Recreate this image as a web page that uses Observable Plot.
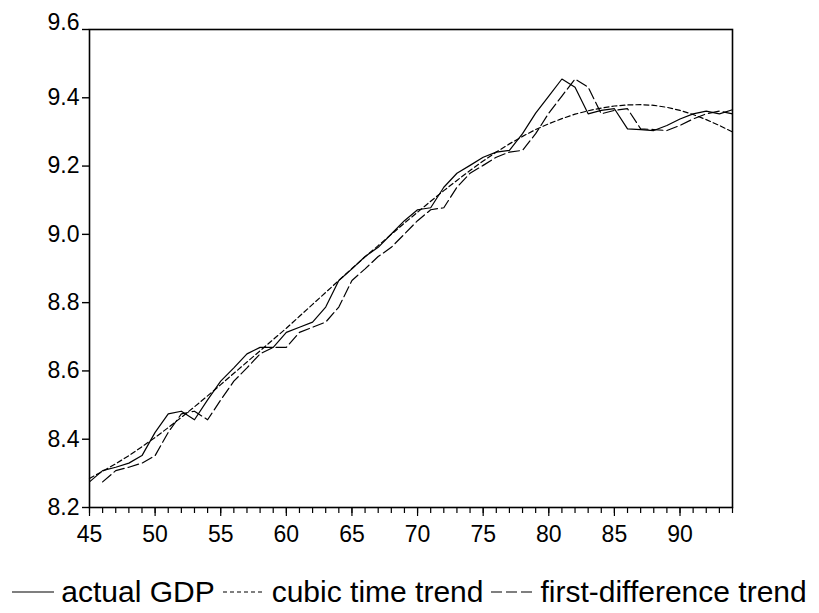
<!DOCTYPE html>
<html>
<head>
<meta charset="utf-8">
<script src="https://cdn.jsdelivr.net/npm/d3@7"></script>
<script src="https://cdn.jsdelivr.net/npm/@observablehq/plot@0.6"></script>
<style>
  html, body { margin: 0; padding: 0; background: #fff; }
  body { width: 819px; height: 613px; overflow: hidden; font-family: "Liberation Sans", Arial, sans-serif; }
  #legend { display: flex; align-items: center; justify-content: center; height: 32px; margin-top: 16px; font-size: 30px; color: #000; white-space: nowrap; }
  #legend .item { display: flex; align-items: center; margin: 0 4px; }
  #legend svg { margin-right: 7px; }
</style>
</head>
<body>
<div id="chart"></div>
<div id="legend"></div>
<script>
// Years (x axis, 1945–1994 shown as 45–94)
const years = [45,46,47,48,49,50,51,52,53,54,55,56,57,58,59,60,61,62,63,64,65,66,67,68,69,70,71,72,73,74,75,76,77,78,79,80,81,82,83,84,85,86,87,88,89,90,91,92,93,94];
// actual GDP (log)
const actualGDP = [8.275,8.308,8.318,8.330,8.352,8.420,8.474,8.482,8.457,8.515,8.570,8.609,8.650,8.669,8.669,8.713,8.728,8.743,8.787,8.865,8.899,8.935,8.962,9.001,9.040,9.072,9.078,9.138,9.179,9.202,9.226,9.241,9.246,9.295,9.355,9.405,9.455,9.431,9.353,9.363,9.368,9.309,9.307,9.304,9.319,9.338,9.353,9.361,9.353,9.365];
// cubic time trend
const cubicTrend = [8.285,8.306,8.328,8.352,8.378,8.405,8.434,8.464,8.495,8.527,8.560,8.593,8.626,8.659,8.692,8.725,8.760,8.795,8.830,8.865,8.900,8.934,8.967,9.000,9.033,9.065,9.097,9.128,9.158,9.187,9.215,9.241,9.265,9.287,9.307,9.324,9.339,9.352,9.362,9.370,9.376,9.379,9.380,9.378,9.372,9.363,9.351,9.336,9.319,9.300];
// first-difference trend (starts one year later)
const fdYears = [46,47,48,49,50,51,52,53,54,55,56,57,58,59,60,61,62,63,64,65,66,67,68,69,70,71,72,73,74,75,76,77,78,79,80,81,82,83,84,85,86,87,88,89,90,91,92,93,94];
const fdTrend = [8.275,8.308,8.318,8.330,8.352,8.420,8.474,8.482,8.457,8.515,8.570,8.609,8.650,8.669,8.669,8.713,8.728,8.743,8.787,8.865,8.899,8.935,8.962,9.001,9.040,9.072,9.078,9.138,9.179,9.202,9.226,9.241,9.246,9.295,9.355,9.405,9.455,9.431,9.353,9.363,9.368,9.309,9.307,9.304,9.319,9.338,9.353,9.361,9.353];
// axis ticks
const yTicks = [8.2,8.4,8.6,8.8,9.0,9.2,9.4,9.6];
const yTopTick = [9.6];
const xMajorTicks = [45,50,55,60,65,70,75,80,85,90];
const seriesNames = ["actual GDP","cubic time trend","first-difference trend"];
const seriesDash = [null,"5,3","11,4"];

const actualData = years.map((y,i) => ({year:y, value:actualGDP[i]}));
const cubicData = years.map((y,i) => ({year:y, value:cubicTrend[i]}));
const fdData = fdYears.map((y,i) => ({year:y, value:fdTrend[i]}));
const fmt = d3.format(".1f");

const chart = Plot.plot({
  width: 819,
  height: 560,
  marginLeft: 89,
  marginRight: 87,
  marginTop: 29,
  marginBottom: 53,
  x: {domain: [45, 94]},
  y: {domain: [8.2, 9.6]},
  style: {fontFamily: "'Liberation Sans', Arial, sans-serif", fontSize: "23px", color: "#000", background: "#fff"},
  marks: [
    Plot.line(cubicData, {x: "year", y: "value", stroke: "#000", strokeWidth: 1.2, strokeDasharray: seriesDash[1]}),
    Plot.line(fdData, {x: "year", y: "value", stroke: "#000", strokeWidth: 1.2, strokeDasharray: seriesDash[2]}),
    Plot.line(actualData, {x: "year", y: "value", stroke: "#000", strokeWidth: 1.2}),
    Plot.frame({stroke: "#000", strokeWidth: 1.6}),
    Plot.axisY({ticks: yTicks, tickSize: 7, tickPadding: 3, tickFormat: d => yTopTick.includes(d) ? "" : fmt(d), label: null, fontSize: 23, strokeWidth: 1.4}),
    Plot.axisY({ticks: yTopTick, tickSize: 0, tickPadding: 10, tickFormat: fmt, label: null, fontSize: 23, dy: -7}),
    Plot.axisX({ticks: years, tickSize: 6, tickFormat: () => "", label: null, strokeWidth: 1.2}),
    Plot.axisX({ticks: xMajorTicks, tickSize: 9, tickPadding: 9, tickFormat: d => String(d), label: null, fontSize: 23, strokeWidth: 1.2})
  ]
});
document.getElementById("chart").appendChild(chart);

// Legend
const legend = document.getElementById("legend");
seriesNames.forEach((name, i) => {
  const item = document.createElement("div");
  item.className = "item";
  const svg = d3.create("svg").attr("width", 42).attr("height", 10);
  svg.append("line").attr("x1", 0).attr("x2", 42).attr("y1", 5).attr("y2", 5)
    .attr("stroke", "#000").attr("stroke-width", 1.2)
    .attr("stroke-dasharray", i === 1 ? "4,3" : seriesDash[i]);
  item.appendChild(svg.node());
  const span = document.createElement("span");
  span.textContent = name;
  item.appendChild(span);
  legend.appendChild(item);
});
</script>
</body>
</html>
